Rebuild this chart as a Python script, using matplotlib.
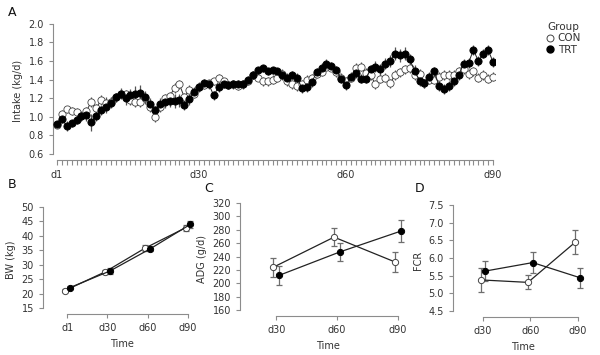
#!/usr/bin/env python3
"""Daily intake, body weight, ADG and FCR for CON and TRT groups."""

import matplotlib

matplotlib.use("Agg")
import matplotlib.pyplot as plt
from matplotlib.lines import Line2D

# ---- panel A: daily intake (kg/d), days 1..90 ----
INTAKE_TRT = [
    0.92, 0.98, 0.90, 0.93, 0.97, 1.01, 1.02, 0.94, 1.01, 1.07, 1.10, 1.15, 1.21,
    1.25, 1.20, 1.23, 1.25, 1.26, 1.21, 1.14, 1.07, 1.14, 1.16, 1.17, 1.17, 1.18,
    1.13, 1.19, 1.27, 1.32, 1.36, 1.35, 1.23, 1.32, 1.35, 1.34, 1.35, 1.35, 1.35,
    1.40, 1.45, 1.50, 1.52, 1.49, 1.50, 1.49, 1.45, 1.42, 1.45, 1.42, 1.31, 1.32,
    1.37, 1.48, 1.53, 1.57, 1.55, 1.50, 1.41, 1.34, 1.43, 1.47, 1.41, 1.41, 1.51,
    1.54, 1.51, 1.57, 1.60, 1.68, 1.66, 1.68, 1.62, 1.49, 1.39, 1.36, 1.43, 1.49,
    1.33, 1.30, 1.33, 1.38, 1.45, 1.57, 1.58, 1.72, 1.60, 1.68, 1.72, 1.59,
]
INTAKE_CON = [
    0.91, 1.03, 1.08, 1.06, 1.05, 1.01, 1.06, 1.16, 1.09, 1.18, 1.15, 1.16, 1.21,
    1.25, 1.24, 1.18, 1.16, 1.16, 1.20, 1.10, 1.00, 1.10, 1.20, 1.22, 1.31, 1.35,
    1.21, 1.29, 1.25, 1.32, 1.34, 1.36, 1.38, 1.42, 1.38, 1.34, 1.35, 1.33, 1.35,
    1.38, 1.45, 1.42, 1.38, 1.38, 1.40, 1.42, 1.46, 1.38, 1.35, 1.33, 1.35, 1.40,
    1.42, 1.46, 1.48, 1.54, 1.53, 1.48, 1.42, 1.38, 1.42, 1.53, 1.54, 1.47, 1.45,
    1.35, 1.41, 1.42, 1.36, 1.45, 1.48, 1.51, 1.52, 1.45, 1.46, 1.36, 1.40, 1.40,
    1.43, 1.45, 1.45, 1.45, 1.49, 1.51, 1.46, 1.49, 1.42, 1.45, 1.41, 1.43,
]
INTAKE_TRT_SE = [
    0.04, 0.05, 0.05, 0.04, 0.05, 0.05, 0.06, 0.09, 0.05, 0.05, 0.06, 0.06, 0.05,
    0.06, 0.07, 0.07, 0.08, 0.08, 0.07, 0.06, 0.05, 0.06, 0.07, 0.07, 0.08, 0.07,
    0.06, 0.06, 0.05, 0.05, 0.05, 0.05, 0.05, 0.05, 0.04, 0.04, 0.05, 0.05, 0.05,
    0.04, 0.04, 0.04, 0.04, 0.04, 0.04, 0.04, 0.05, 0.05, 0.04, 0.05, 0.05, 0.05,
    0.05, 0.05, 0.05, 0.05, 0.04, 0.05, 0.05, 0.05, 0.05, 0.05, 0.05, 0.05, 0.05,
    0.06, 0.06, 0.06, 0.06, 0.07, 0.07, 0.07, 0.06, 0.07, 0.06, 0.05, 0.05, 0.05,
    0.05, 0.05, 0.05, 0.05, 0.05, 0.05, 0.05, 0.05, 0.05, 0.05, 0.05, 0.05,
]
INTAKE_CON_SE = [
    0.03, 0.04, 0.04, 0.04, 0.04, 0.04, 0.05, 0.05, 0.05, 0.05, 0.06, 0.05, 0.05,
    0.05, 0.05, 0.05, 0.05, 0.05, 0.05, 0.05, 0.06, 0.05, 0.05, 0.05, 0.05, 0.05,
    0.05, 0.05, 0.05, 0.04, 0.04, 0.04, 0.04, 0.04, 0.04, 0.04, 0.04, 0.04, 0.04,
    0.04, 0.04, 0.04, 0.05, 0.05, 0.05, 0.05, 0.05, 0.05, 0.05, 0.05, 0.05, 0.05,
    0.04, 0.04, 0.04, 0.04, 0.04, 0.05, 0.05, 0.05, 0.05, 0.05, 0.05, 0.05, 0.05,
    0.05, 0.05, 0.05, 0.05, 0.05, 0.05, 0.05, 0.05, 0.05, 0.05, 0.05, 0.05, 0.05,
    0.05, 0.05, 0.05, 0.05, 0.05, 0.05, 0.05, 0.05, 0.05, 0.05, 0.05, 0.05,
]
INTAKE_TICK_LABELS = ["d1", "d30", "d60", "d90"]
INTAKE_TICK_DAYS = [1, 30, 60, 90]

# ---- panel B: body weight (kg) ----
BW_TIMES = ["d1", "d30", "d60", "d90"]
BW_CON = [21.0, 27.5, 35.8, 42.8]
BW_CON_SE = [0.4, 0.8, 0.9, 1.0]
BW_TRT = [22.0, 27.8, 35.5, 44.0]
BW_TRT_SE = [0.5, 0.9, 0.9, 1.2]

# ---- panel C: ADG (g/d) ----
ADG_TIMES = ["d30", "d60", "d90"]
ADG_CON = [224, 269, 232]
ADG_CON_SE = [14, 14, 15]
ADG_TRT = [212, 247, 278]
ADG_TRT_SE = [14, 13, 16]

# ---- panel D: FCR ----
FCR_TIMES = ["d30", "d60", "d90"]
FCR_CON = [5.38, 5.31, 6.45]
FCR_CON_SE = [0.35, 0.20, 0.33]
FCR_TRT = [5.63, 5.87, 5.44]
FCR_TRT_SE = [0.28, 0.30, 0.28]

SPINE_COLOR = "#8c8c8c"
TEXT_COLOR = "#333333"
ERR_COLOR = "#6e6e6e"
FONT_SIZE = 7


def style_axes(ax, ybounds, xbounds):
    for side in ("top", "right"):
        ax.spines[side].set_visible(False)
    for side in ("left", "bottom"):
        ax.spines[side].set_color(SPINE_COLOR)
        ax.spines[side].set_linewidth(0.8)
    ax.spines["left"].set_bounds(*ybounds)
    ax.spines["bottom"].set_bounds(*xbounds)
    ax.tick_params(axis="both", which="both", colors=SPINE_COLOR, width=0.8,
                   length=3, labelsize=FONT_SIZE, labelcolor=TEXT_COLOR)


def group_panel(ax, times, con, con_se, trt, trt_se, dodge):
    xs = list(range(len(times)))
    x_con = [x - dodge for x in xs]
    x_trt = [x + dodge for x in xs]
    for xv, yv, se in ((x_con, con, con_se), (x_trt, trt, trt_se)):
        ax.errorbar(xv, yv, yerr=se, fmt="none", ecolor=ERR_COLOR,
                    elinewidth=0.9, capsize=2.5, capthick=0.9, zorder=2)
    ax.plot(x_con, con, color="#222222", lw=0.9, marker="o", ms=4.5,
            mfc="white", mec="#444444", mew=0.7, zorder=3)
    ax.plot(x_trt, trt, color="#222222", lw=0.9, marker="o", ms=4.5,
            mfc="black", mec="black", mew=0.7, zorder=4)
    ax.set_xticks(xs)
    ax.set_xticklabels(times)
    ax.set_xlabel("Time", fontsize=FONT_SIZE, color=TEXT_COLOR, labelpad=4)


def main():
    plt.rcParams["font.family"] = ["DejaVu Sans"]
    fig = plt.figure(figsize=(6.0, 3.55), dpi=100)

    # panel A
    ax = fig.add_axes([0.0883, 0.5493, 0.7375, 0.3887])
    days = list(range(1, len(INTAKE_TRT) + 1))
    ax.errorbar(days, INTAKE_CON, yerr=INTAKE_CON_SE, fmt="none",
                ecolor="#555555", elinewidth=0.9, capsize=0, zorder=2)
    ax.errorbar(days, INTAKE_TRT, yerr=INTAKE_TRT_SE, fmt="none",
                ecolor="#555555", elinewidth=0.9, capsize=0, zorder=2)
    ax.plot(days, INTAKE_CON, color="#333333", lw=0.7, marker="o", ms=5.2,
            mfc="white", mec="#444444", mew=0.6, zorder=3)
    ax.plot(days, INTAKE_TRT, color="#222222", lw=0.7, marker="o", ms=5.2,
            mfc="black", mec="black", mew=0.6, zorder=4)
    ax.set_xlim(0.2, 90.5)
    ax.set_ylim(0.535, 2.02)
    ax.set_yticks([0.6, 0.8, 1.0, 1.2, 1.4, 1.6, 1.8, 2.0])
    ax.set_yticklabels([f"{v:.1f}" for v in ax.get_yticks()])
    ax.set_xticks(INTAKE_TICK_DAYS)
    ax.set_xticklabels(INTAKE_TICK_LABELS)
    ax.set_xticks(days, minor=True)
    style_axes(ax, (0.6, 2.0), (1, 90))
    ax.tick_params(axis="x", which="both", length=3.5)
    ax.set_ylabel("Intake (kg/d)", fontsize=FONT_SIZE, color=TEXT_COLOR, labelpad=4)

    handles = [
        Line2D([], [], ls="none", marker="o", ms=5, mfc="white", mec="#444444", mew=0.7),
        Line2D([], [], ls="none", marker="o", ms=5, mfc="black", mec="black"),
    ]
    leg = fig.legend(handles, ["CON", "TRT"], title="Group", loc="upper left",
                     bbox_to_anchor=(0.905, 0.95), frameon=False,
                     fontsize=FONT_SIZE + 0.5, title_fontsize=FONT_SIZE + 0.5,
                     handlelength=0.6, handletextpad=0.4, labelspacing=0.15,
                     borderaxespad=0, alignment="left")
    for text in leg.get_texts():
        text.set_color(TEXT_COLOR)
    leg.get_title().set_color(TEXT_COLOR)

    # panel B
    ax = fig.add_axes([0.0717, 0.1155, 0.2617, 0.3053])
    group_panel(ax, BW_TIMES, BW_CON, BW_CON_SE, BW_TRT, BW_TRT_SE, 0.06)
    ax.set_xlim(-0.6, 3.3)
    ax.set_ylim(12.9, 50.5)
    ax.set_yticks(range(15, 51, 5))
    style_axes(ax, (15, 50), (0, 3))
    ax.set_ylabel("BW (kg)", fontsize=FONT_SIZE, color=TEXT_COLOR, labelpad=4)

    # panel C
    ax = fig.add_axes([0.400, 0.1099, 0.2933, 0.3219])
    group_panel(ax, ADG_TIMES, ADG_CON, ADG_CON_SE, ADG_TRT, ADG_TRT_SE, 0.05)
    ax.set_xlim(-0.6, 2.3)
    ax.set_ylim(151, 322)
    ax.set_yticks(range(160, 321, 20))
    style_axes(ax, (160, 320), (0, 2))
    ax.set_ylabel("ADG (g/d)", fontsize=FONT_SIZE, color=TEXT_COLOR, labelpad=4)

    # panel D
    ax = fig.add_axes([0.755, 0.107, 0.2317, 0.3206])
    group_panel(ax, FCR_TIMES, FCR_CON, FCR_CON_SE, FCR_TRT, FCR_TRT_SE, 0.05)
    ax.set_xlim(-0.63, 2.3)
    ax.set_ylim(4.33, 7.55)
    ax.set_yticks([4.5, 5.0, 5.5, 6.0, 6.5, 7.0, 7.5])
    ax.set_yticklabels([f"{v:.1f}" for v in ax.get_yticks()])
    style_axes(ax, (4.5, 7.5), (0, 2))
    ax.set_ylabel("FCR", fontsize=FONT_SIZE, color=TEXT_COLOR, labelpad=4)

    for label, x, y in (("A", 0.013, 0.965), ("B", 0.013, 0.48),
                        ("C", 0.340, 0.47), ("D", 0.692, 0.47)):
        fig.text(x, y, label, fontsize=9, color="#111111", ha="left", va="center")

    fig.savefig("out.png", dpi=100)
    plt.close(fig)


if __name__ == "__main__":
    main()
